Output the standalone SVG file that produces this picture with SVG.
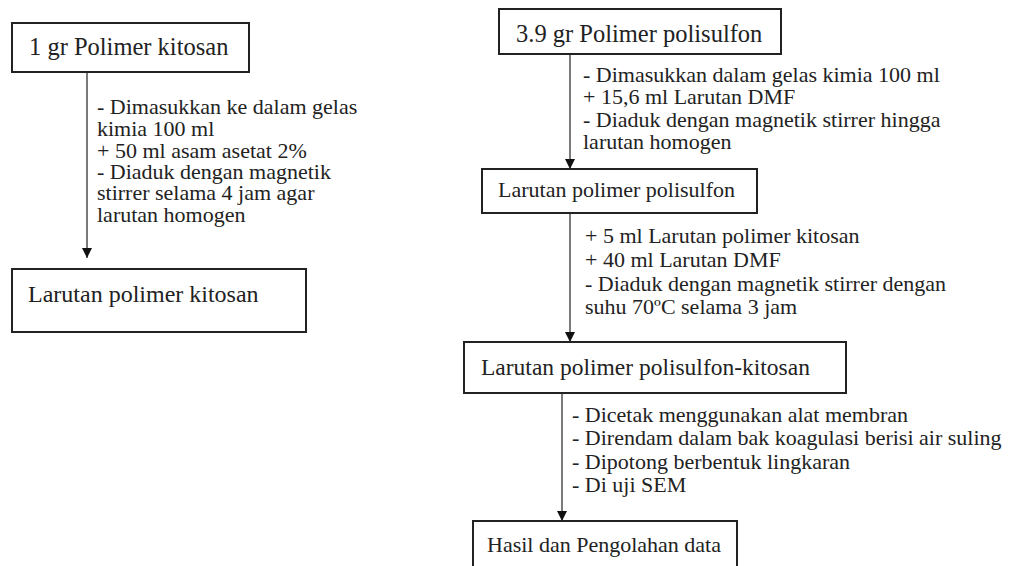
<svg xmlns="http://www.w3.org/2000/svg" width="1027" height="566" viewBox="0 0 1027 566">
<style>
.box{fill:#fff;stroke:#222;stroke-width:2}
text{font-family:'Liberation Serif','DejaVu Serif',serif;fill:#222}
.bt{font-size:24px}
.an{font-size:22px}
.ln{stroke:#333;stroke-width:1.3;fill:none}
</style>
<defs>
<marker id="ah" viewBox="0 0 10 10" refX="10" refY="5" markerWidth="10" markerHeight="10" markerUnits="userSpaceOnUse" orient="auto">
<path d="M0,0 L10,5 L0,10 Z" fill="#111"/>
</marker>
</defs>
<rect width="1027" height="566" fill="#fff"/>
<g id="connectors">
<line class="ln" x1="87" y1="73" x2="87" y2="258" marker-end="url(#ah)"/>
<line class="ln" x1="570" y1="55" x2="570" y2="169" marker-end="url(#ah)"/>
<line class="ln" x1="570" y1="214" x2="570" y2="342" marker-end="url(#ah)"/>
<line class="ln" x1="562" y1="394" x2="562" y2="521" marker-end="url(#ah)"/>
</g>
<g id="label-left" class="an" font-family="Liberation Serif, serif">
<text x="97" y="114">- Dimasukkan ke dalam gelas</text>
<text x="97" y="136">kimia 100 ml</text>
<text x="97" y="158">+ 50 ml asam asetat 2%</text>
<text x="97" y="179">- Diaduk dengan magnetik</text>
<text x="97" y="200">stirrer selama 4 jam agar</text>
<text x="97" y="222">larutan homogen</text>
</g>
<g id="label-right1" class="an" font-family="Liberation Serif, serif">
<text x="583" y="82">- Dimasukkan dalam gelas kimia 100 ml</text>
<text x="583" y="104">+ 15,6 ml Larutan DMF</text>
<text x="583" y="127">- Diaduk dengan magnetik stirrer hingga</text>
<text x="583" y="149">larutan homogen</text>
</g>
<g id="label-right2" class="an" font-family="Liberation Serif, serif">
<text x="585" y="243">+ 5 ml Larutan polimer kitosan</text>
<text x="585" y="267">+ 40 ml Larutan DMF</text>
<text x="585" y="291">- Diaduk dengan magnetik stirrer dengan</text>
<text x="585" y="314">suhu 70ºC selama 3 jam</text>
</g>
<g id="label-right3" class="an" font-family="Liberation Serif, serif">
<text x="572" y="422">- Dicetak menggunakan alat membran</text>
<text x="572" y="445">- Direndam dalam bak koagulasi berisi air suling</text>
<text x="572" y="469">- Dipotong berbentuk lingkaran</text>
<text x="572" y="492">- Di uji SEM</text>
</g>
<g id="n1"><rect class="box" x="12" y="23" width="237" height="49"/><text class="bt" x="29" y="55" style="font-size:24.5px">1 gr Polimer kitosan</text></g>
<g id="n2"><rect class="box" x="12" y="269" width="294" height="63"/><text class="bt" x="28" y="302">Larutan polimer kitosan</text></g>
<g id="n3"><rect class="box" x="499" y="9" width="282" height="45"/><text class="bt" x="516" y="42" style="font-size:24.5px">3.9 gr Polimer polisulfon</text></g>
<g id="n4"><rect class="box" x="482" y="169" width="275" height="44"/><text class="bt" x="498" y="197" style="font-size:22px">Larutan polimer polisulfon</text></g>
<g id="n5"><rect class="box" x="464" y="342" width="382" height="51"/><text class="bt" x="481" y="375" style="font-size:23.5px">Larutan polimer polisulfon-kitosan</text></g>
<g id="n6"><rect class="box" x="473" y="521" width="264" height="50"/><text class="bt" x="487" y="552" style="font-size:22px">Hasil dan Pengolahan data</text></g>
</svg>
